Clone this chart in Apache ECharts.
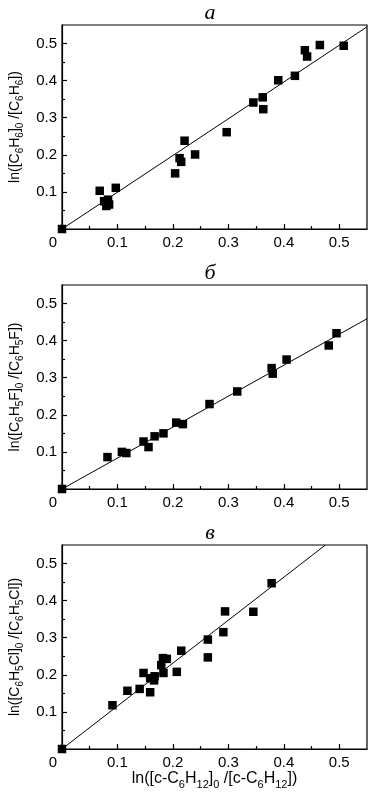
<!DOCTYPE html>
<html><head><meta charset="utf-8">
<script src="https://cdn.jsdelivr.net/npm/echarts@6/dist/echarts.min.js"></script>
<style>html,body{margin:0;padding:0;background:#fff}#c{width:388px;height:799px}</style>
</head><body><div id="c"></div>
<script>
// ---- data ----
const panelTitles = ['а', 'б', 'в'];
const xMajor = [0, 0.1, 0.2, 0.3, 0.4, 0.5];
const xMinor = [0.05, 0.15, 0.25, 0.35, 0.45];
const yMajor = [0.1, 0.2, 0.3, 0.4, 0.5];
const yMinor = [0.05, 0.15, 0.25, 0.35, 0.45];

const aX = [0, 0.068, 0.097, 0.076, 0.083, 0.080, 0.085, 0.204, 0.212, 0.215, 0.221, 0.240, 0.297, 0.345, 0.362, 0.363, 0.390, 0.420, 0.438, 0.442, 0.465, 0.508];
const aY = [0, 0.103, 0.111, 0.075, 0.079, 0.062, 0.066, 0.150, 0.191, 0.181, 0.238, 0.201, 0.261, 0.341, 0.355, 0.323, 0.401, 0.413, 0.482, 0.465, 0.496, 0.494];
const aFit = [[0, 0], [0.55, 0.545]];

const bX = [0, 0.082, 0.108, 0.116, 0.147, 0.156, 0.167, 0.183, 0.206, 0.218, 0.266, 0.316, 0.378, 0.380, 0.405, 0.481, 0.495];
const bY = [0, 0.086, 0.100, 0.097, 0.128, 0.113, 0.142, 0.150, 0.179, 0.175, 0.229, 0.263, 0.326, 0.311, 0.349, 0.387, 0.420];
const bFit = [[0, 0], [0.55, 0.459]];

const cX = [0, 0.091, 0.118, 0.140, 0.147, 0.159, 0.159, 0.166, 0.167, 0.179, 0.182, 0.183, 0.189, 0.207, 0.215, 0.263, 0.263, 0.291, 0.294, 0.345, 0.378];
const cY = [0, 0.118, 0.157, 0.162, 0.205, 0.153, 0.191, 0.185, 0.196, 0.226, 0.245, 0.205, 0.243, 0.208, 0.265, 0.247, 0.295, 0.315, 0.371, 0.370, 0.447];
const cFit = [[0, 0], [0.475, 0.55]];

const yNames = [
  '{n|ln([C}{s|6}{n|H}{s|6}{n|]}{s|0}{n| /[C}{s|6}{n|H}{s|6}{n|])}',
  '{n|ln([C}{s|6}{n|H}{s|5}{n|F]}{s|0}{n| /[C}{s|6}{n|H}{s|5}{n|F])}',
  '{n|ln([C}{s|6}{n|H}{s|5}{n|Cl]}{s|0}{n| /[C}{s|6}{n|H}{s|5}{n|Cl])}'
];
const xName = '{N|ln([c-C}{S|6}{N|H}{S|12}{N|]}{S|0}{N| /[c-C}{S|6}{N|H}{S|12}{N|])}';

// ---- chart ----
const FONT = '"Liberation Sans", Arial, sans-serif';
const rich = {
  n: {fontSize: 14, fontFamily: FONT, color: '#000', lineHeight: 20, verticalAlign: 'middle'},
  s: {fontSize: 10, fontFamily: FONT, color: '#000', lineHeight: 10, verticalAlign: 'bottom'},
  N: {fontSize: 16, fontFamily: FONT, color: '#000', lineHeight: 22, verticalAlign: 'middle'},
  S: {fontSize: 11, fontFamily: FONT, color: '#000', lineHeight: 11, verticalAlign: 'bottom'},
  z: {fontSize: 15, fontFamily: FONT, color: '#000', padding: [0, 18, 0, 0]}
};
const tops = [25, 285, 545];
const grids = [], xAxes = [], yAxes = [], series = [], graphics = [];
const sets = [[aX, aY, aFit], [bX, bY, bFit], [cX, cY, cFit]];

tops.forEach((t, i) => {
  grids.push({left: 62, top: t, width: 305, height: 204, show: true, borderColor: '#000', borderWidth: 1.2, backgroundColor: 'transparent'});
  const common = {type: 'value', gridIndex: i, min: 0, max: 0.55, interval: 0.1, splitLine: {show: false}};
  xAxes.push(Object.assign({}, common, {
    position: 'bottom',
    axisLine: {show: true, onZero: false, lineStyle: {color: '#000', width: 1.2}},
    axisTick: {show: true, inside: true, length: 5, customValues: xMajor, lineStyle: {color: '#000', width: 1.2}},
    axisLabel: {show: true, customValues: xMajor, margin: 6, fontSize: 15, fontFamily: FONT, color: '#000',
      formatter: v => v === 0 ? '{z|0}' : String(v), rich: rich},
    name: i === 2 ? xName : '', nameLocation: 'middle', nameGap: 19,
    nameTextStyle: {rich: rich}
  }));
  xAxes.push(Object.assign({}, common, {
    position: 'bottom',
    axisLine: {show: false, onZero: false},
    axisTick: {show: true, inside: true, length: 3, customValues: xMinor, lineStyle: {color: '#000', width: 1.2}},
    axisLabel: {show: false}
  }));
  yAxes.push(Object.assign({}, common, {
    position: 'left',
    axisLine: {show: true, onZero: false, lineStyle: {color: '#000', width: 1.2}},
    axisTick: {show: true, inside: true, length: 5, customValues: yMajor, lineStyle: {color: '#000', width: 1.2}},
    axisLabel: {show: true, customValues: yMajor, margin: 5, fontSize: 15, fontFamily: FONT, color: '#000', formatter: v => String(v)},
    name: yNames[i], nameLocation: 'middle', nameGap: 35,
    nameTextStyle: {rich: rich}
  }));
  yAxes.push(Object.assign({}, common, {
    position: 'left',
    axisLine: {show: false, onZero: false},
    axisTick: {show: true, inside: true, length: 3, customValues: yMinor, lineStyle: {color: '#000', width: 1.2}},
    axisLabel: {show: false}
  }));
  const [xs, ys, fit] = sets[i];
  series.push({type: 'line', xAxisIndex: 2 * i, yAxisIndex: 2 * i, data: fit, symbol: 'none', silent: true,
    lineStyle: {color: '#000', width: 1}, clip: true, z: 2});
  series.push({type: 'scatter', xAxisIndex: 2 * i, yAxisIndex: 2 * i, data: xs.map((x, k) => [x, ys[k]]),
    symbol: 'rect', symbolSize: 8.5, itemStyle: {color: '#000', opacity: 1}, clip: false, z: 3});
  graphics.push({type: 'text', x: 210, y: t - 11.5, style: {text: panelTitles[i], textAlign: 'center', textVerticalAlign: 'middle',
    font: 'italic 22px "Liberation Serif", "Times New Roman", serif', fill: '#000'}});
});

const chart = echarts.init(document.getElementById('c'), null, {renderer: 'canvas'});
chart.setOption({
  animation: false,
  backgroundColor: '#fff',
  grid: grids, xAxis: xAxes, yAxis: yAxes, series: series, graphic: graphics
});
</script>
</body></html>
